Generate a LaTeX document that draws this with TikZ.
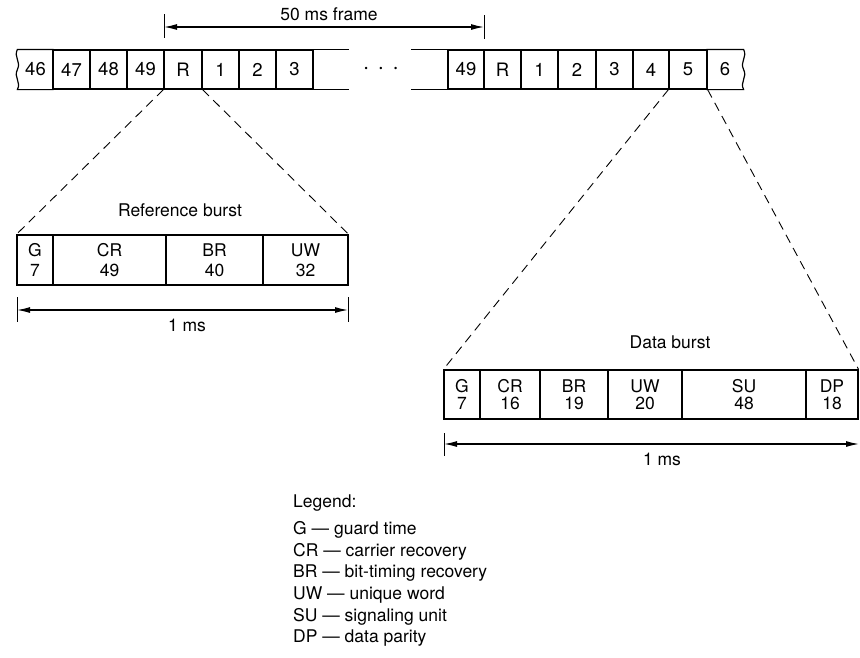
\documentclass[tikz,border=0pt]{standalone}
\usepackage{fontspec}
\setmainfont{TeX Gyre Heros}
\usetikzlibrary{arrows.meta}
\begin{document}
\begin{tikzpicture}[x=1pt,y=-1pt,
  every node/.style={font=\fontsize{17.5}{20}\selectfont, inner sep=0pt},
  cell/.style={draw, line width=1.2pt, minimum height=39pt, font=\fontsize{18.5}{20}\selectfont},
  frame/.style={line width=1.2pt},
  rbox/.style={draw, line width=1.2pt, minimum height=50pt, align=center, font=\fontsize{17.5}{19.5}\selectfont},
  dbox/.style={draw, line width=1.2pt, minimum height=49pt, align=center, font=\fontsize{17.5}{17}\selectfont},
  zoomline/.style={line width=0.9pt, dash pattern=on 9pt off 6pt},
  tickline/.style={line width=0.9pt},
  dim/.style={line width=1.2pt, {Latex[length=13pt,width=6pt]}-{Latex[length=13pt,width=6pt]}},
  legend/.style={anchor=west}
]
\useasboundingbox (0,0) rectangle (860,657);

% ---- top frame strip, left part
\node[cell,draw=none,minimum width=35pt] (a46) at (35.5,69.5) {46};
\node[cell,minimum width=37pt] (a47) at (71.5,69.5) {47};
\node[cell,minimum width=37pt] (a48) at (108.5,69.5) {48};
\node[cell,minimum width=37pt] (a49) at (145.5,69.5) {49};
\node[cell,minimum width=38pt] (aR) at (183,69.5) {R};
\node[cell,minimum width=37pt] (a1) at (220.5,69.5) {1};
\node[cell,minimum width=37pt] (a2) at (257.5,69.5) {2};
\node[cell,minimum width=37pt] (a3) at (294.5,69.5) {3};
\draw[frame] (a46.north east) -- (a46.north west)
  .. controls +(-4,8) and +(4,-8) .. (a46.west)
  .. controls +(-4,8) and +(4,-8) .. (a46.south west) -- (a46.south east);
\draw[frame] (a3.north east) -- ++(35,0);
\draw[frame] (a3.south east) -- ++(35,0);

\node[font=\fontsize{24}{24}\selectfont] (dots) at (381,71) {·\hspace{8pt}·\hspace{8pt}·};

% ---- top frame strip, right part
\node[cell,minimum width=36pt] (b49) at (466,69.5) {49};
\node[cell,minimum width=37pt] (bR) at (502.5,69.5) {R};
\node[cell,minimum width=37pt] (b1) at (539.5,69.5) {1};
\node[cell,minimum width=38pt] (b2) at (577,69.5) {2};
\node[cell,minimum width=37pt] (b3) at (614.5,69.5) {3};
\node[cell,minimum width=36pt] (b4) at (651,69.5) {4};
\node[cell,minimum width=38pt] (b5) at (688,69.5) {5};
\node[cell,draw=none,minimum width=36pt] (b6) at (725,69.5) {6};
\draw[frame] (b6.north west) -- (b6.north east)
  .. controls +(4,8) and +(-4,-8) .. (b6.east)
  .. controls +(4,8) and +(-4,-8) .. (b6.south east) -- (b6.south west);
\draw[frame] (b49.north west) -- ++(-36,0);
\draw[frame] (b49.south west) -- ++(-36,0);

% ---- 50 ms frame dimension
\coordinate (fL) at (164,27);
\coordinate (fR) at (484,27);
\draw[tickline] (164,14) -- (164,38);
\draw[tickline] (484,15) -- (484,39);
\draw[dim] (fL) -- (fR);
\node (flabel) at (329,14) {50 ms frame};

% ---- reference burst
\node (rlabel) at (180,210) {Reference burst};
\node[rbox,minimum width=36pt] (rG) at (35,260) {G\\7};
\node[rbox,minimum width=113pt] (rCR) at (109.5,260) {CR\\49};
\node[rbox,minimum width=97pt] (rBR) at (214.5,260) {BR\\40};
\node[rbox,minimum width=85pt] (rUW) at (305.5,260) {UW\\32};
\draw[zoomline] (aR.south west) -- (rG.north west);
\draw[zoomline] (aR.south east) -- (rUW.north east);

\coordinate (rmL) at (17,310);
\coordinate (rmR) at (348,310);
\draw[tickline] (17,297) -- (17,322);
\draw[tickline] (348,297) -- (348,322);
\draw[dim] (rmL) -- (rmR);
\node (rms) at (187,325) {1 ms};

% ---- data burst
\node (dlabel) at (670,342) {Data burst};
\node[dbox,minimum width=36pt] (dG) at (462,394.5) {G\\7};
\node[dbox,minimum width=60pt] (dCR) at (510,394.5) {CR\\16};
\node[dbox,minimum width=68pt] (dBR) at (574,394.5) {BR\\19};
\node[dbox,minimum width=74pt] (dUW) at (645,394.5) {UW\\20};
\node[dbox,minimum width=124pt] (dSU) at (744,394.5) {SU\\48};
\node[dbox,minimum width=52pt] (dDP) at (832,394.5) {DP\\18};
\draw[zoomline] (b5.south west) -- (dG.north west);
\draw[zoomline] (b5.south east) -- (dDP.north east);

\coordinate (dmL) at (444,444);
\coordinate (dmR) at (859,444);
\draw[tickline] (444,433) -- (444,456);
\draw[dim] (dmL) -- (dmR);
\node (dms) at (662,459) {1 ms};

% ---- legend
\node[legend] (lg) at (293,503) {Legend:};
\node[legend] (lg1) at (293,530) {G — guard time};
\node[legend] (lg2) at (293,551.6) {CR — carrier recovery};
\node[legend] (lg3) at (293,573.2) {BR — bit-timing recovery};
\node[legend] (lg4) at (293,594.8) {UW — unique word};
\node[legend] (lg5) at (293,616.4) {SU — signaling unit};
\node[legend] (lg6) at (293,638) {DP — data parity};
\end{tikzpicture}
\end{document}
